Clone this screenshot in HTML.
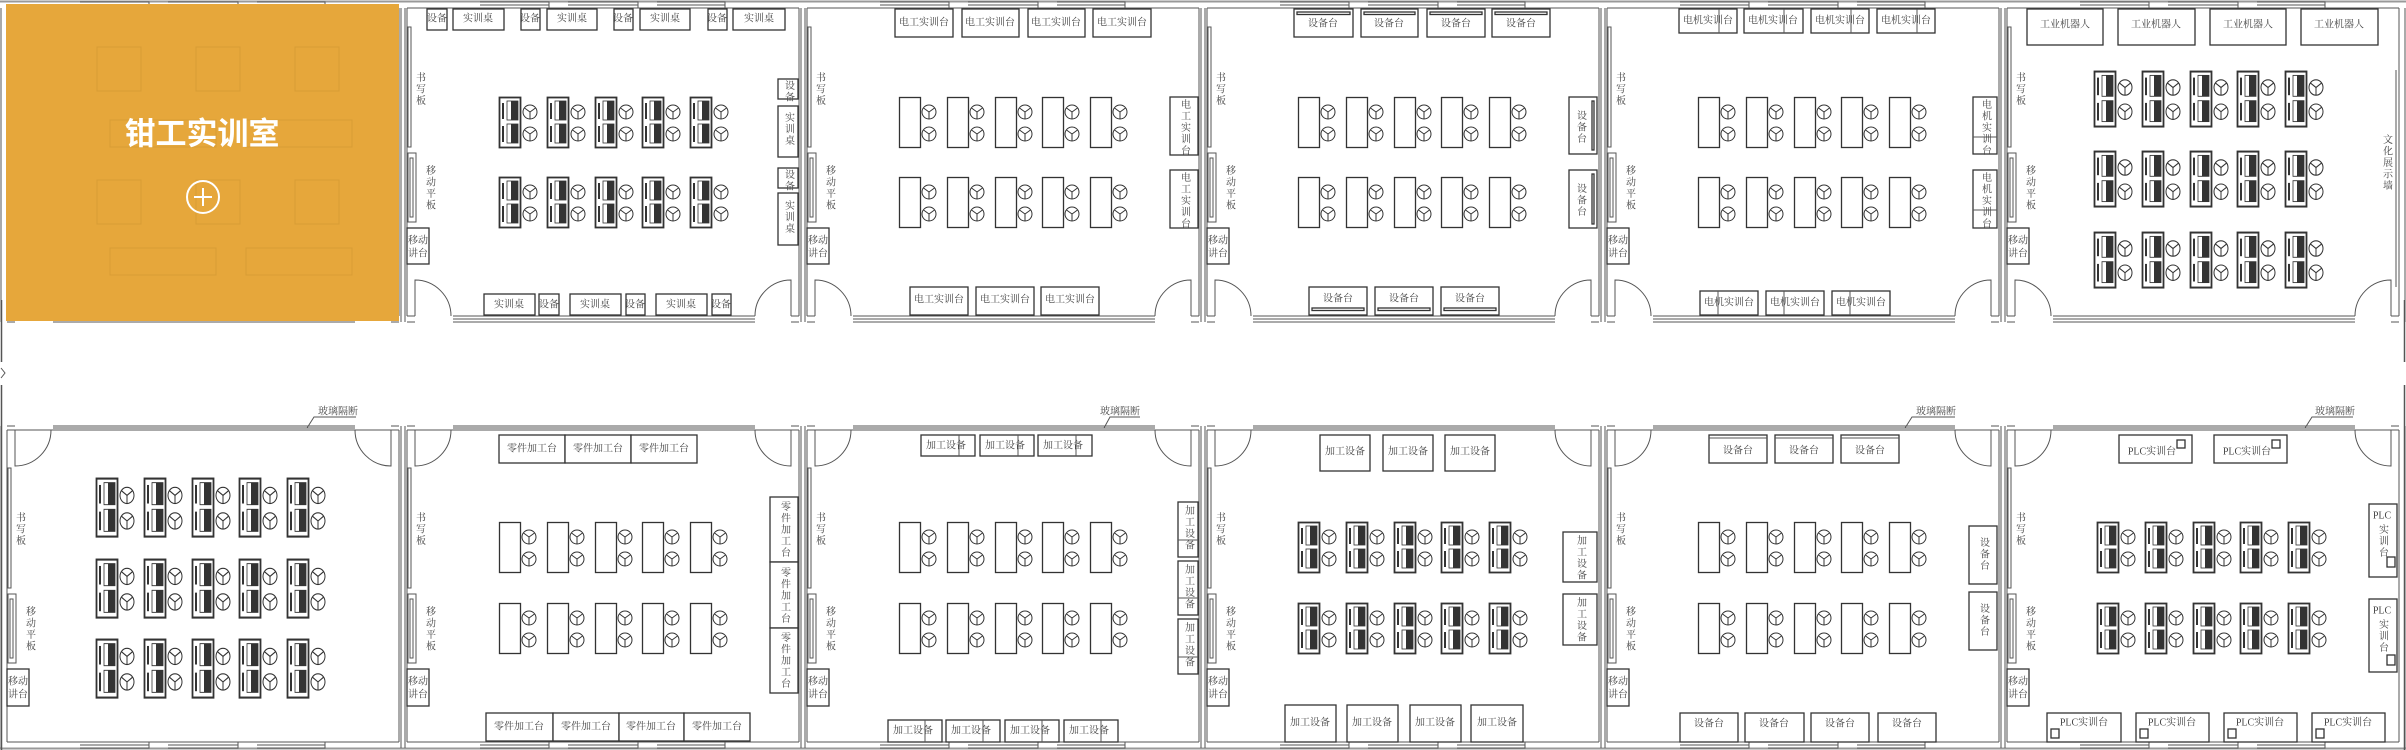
<!DOCTYPE html>
<html><head><meta charset="utf-8"><style>
html,body{margin:0;padding:0;background:#fff;width:2406px;height:750px;overflow:hidden}
svg{display:block}
.w{stroke:#555;stroke-width:1;fill:none}
.b{stroke:#333;stroke-width:1.3;fill:#fff}
.t{font-family:"Liberation Serif","Noto Serif CJK SC",serif;font-size:10px;fill:#444;text-anchor:middle;dominant-baseline:central}
.v{font-family:"Liberation Serif","Noto Serif CJK SC",serif;font-size:10px;fill:#444;writing-mode:tb;letter-spacing:1.5px}
</style></head><body>
<svg width="2406" height="750" viewBox="0 0 2406 750" xmlns="http://www.w3.org/2000/svg">
<defs>
<g id="ch"><circle r="7" fill="#fff" stroke="#333" stroke-width="1"/><path d="M0 0L-5.5 -4M0 0L5.5 -4M0 0V7" stroke="#333" stroke-width="1"/></g>
<g id="pd"><rect x="0.5" y="0.5" width="21" height="50" class="b"/><use href="#ch" x="30" y="15"/><use href="#ch" x="30" y="37"/></g>
<g id="cd"><rect x="0.5" y="0.5" width="21" height="50" stroke="#333" stroke-width="1.8" fill="#fff"/>
<rect x="3" y="6" width="2" height="16" fill="#333"/><rect x="8" y="4" width="11" height="19" fill="#fff" stroke="#333" stroke-width="0.8"/><rect x="12" y="4" width="7" height="19" fill="#333"/>
<rect x="3" y="29" width="2" height="16" fill="#333"/><rect x="8" y="27" width="11" height="19" fill="#fff" stroke="#333" stroke-width="0.8"/><rect x="12" y="27" width="7" height="19" fill="#333"/>
<use href="#ch" x="31" y="15"/><use href="#ch" x="31" y="37"/></g>
<g id="pdrow"><use href="#pd" x="0"/><use href="#pd" x="48"/><use href="#pd" x="96"/><use href="#pd" x="143"/><use href="#pd" x="191"/></g>
<g id="cdrow"><use href="#cd" x="0"/><use href="#cd" x="48"/><use href="#cd" x="96"/><use href="#cd" x="143"/><use href="#cd" x="191"/></g>
<g id="wt" class="w">
<path d="M0 8H392M0 8V316M392 8V316M-6 8V322M398 8V322"/>
<path d="M73 2H142V8M73 5H142M161 2H231V8M161 5H231M250 2H318V8M250 5H318"/>
<path d="M0 316H8M0 322H8M384 316H392M384 322H392M46 316H348M46 319H348M46 322H348"/>
<path d="M8 316V280A36 36 0 0 1 44 316M384 316V280A36 36 0 0 0 348 316"/>
<rect x="1" y="27" width="3" height="120" stroke="#555"/>
<rect x="1" y="153" width="8" height="69"/><rect x="3" y="158" width="3" height="59"/>
</g>
<g id="wb" class="w">
<path d="M0 430H392M0 430V742M392 430V742M-6 426V748M398 426V748"/>
<path d="M0 430H8M0 426H8M384 430H392M384 426H392M46 426H348M46 428H348M46 430H348"/>
<path d="M8 430V466A36 36 0 0 0 44 430M384 430V466A36 36 0 0 1 348 430"/>
<path d="M0 742H392M73 748H142V742M73 745H142M161 748H231V742M161 745H231M250 748H318V742M250 745H318"/>
<rect x="1" y="468" width="3" height="120"/>
<rect x="1" y="594" width="8" height="69"/><rect x="3" y="599" width="3" height="59"/>
</g>
</defs>
<path d="M0 1.5H2406" stroke="#999" stroke-width="2"/>
<path d="M0 748.5H2406" stroke="#999" stroke-width="2"/>
<path d="M1.5 300V362M1.5 385V750M2404.5 300V362M2404.5 385V750" stroke="#555" stroke-width="1.5"/>
<path d="M1 368L5 373L1 378" stroke="#555" fill="none"/>

<use href="#wt" x="7"/><use href="#wt" x="407"/><use href="#wt" x="807"/><use href="#wt" x="1207"/><use href="#wt" x="1607"/><use href="#wt" x="2007"/>
<use href="#wb" x="7"/><use href="#wb" x="407"/><use href="#wb" x="807"/><use href="#wb" x="1207"/><use href="#wb" x="1607"/><use href="#wb" x="2007"/>

<g>
<text class="v" x="419" y="72">书写板</text><text class="v" x="819" y="72">书写板</text><text class="v" x="1219" y="72">书写板</text><text class="v" x="1619" y="72">书写板</text><text class="v" x="2019" y="72">书写板</text>
<text class="v" x="429" y="165">移动平板</text><text class="v" x="829" y="165">移动平板</text><text class="v" x="1229" y="165">移动平板</text><text class="v" x="1629" y="165">移动平板</text><text class="v" x="2029" y="165">移动平板</text>
<rect class="b" x="407" y="228" width="22" height="36"/><text class="t" x="418" y="241">移动</text><text class="t" x="418" y="254">讲台</text>
<rect class="b" x="807" y="228" width="22" height="36"/><text class="t" x="818" y="241">移动</text><text class="t" x="818" y="254">讲台</text>
<rect class="b" x="1207" y="228" width="22" height="36"/><text class="t" x="1218" y="241">移动</text><text class="t" x="1218" y="254">讲台</text>
<rect class="b" x="1607" y="228" width="22" height="36"/><text class="t" x="1618" y="241">移动</text><text class="t" x="1618" y="254">讲台</text>
<rect class="b" x="2007" y="228" width="22" height="36"/><text class="t" x="2018" y="241">移动</text><text class="t" x="2018" y="254">讲台</text>
</g>
<g>
<text class="v" x="19" y="512">书写板</text><text class="v" x="419" y="512">书写板</text><text class="v" x="819" y="512">书写板</text><text class="v" x="1219" y="512">书写板</text><text class="v" x="1619" y="512">书写板</text><text class="v" x="2019" y="512">书写板</text>
<text class="v" x="29" y="606">移动平板</text><text class="v" x="429" y="606">移动平板</text><text class="v" x="829" y="606">移动平板</text><text class="v" x="1229" y="606">移动平板</text><text class="v" x="1629" y="606">移动平板</text><text class="v" x="2029" y="606">移动平板</text>
<rect class="b" x="7" y="669" width="22" height="37"/><text class="t" x="18" y="682">移动</text><text class="t" x="18" y="695">讲台</text>
<rect class="b" x="407" y="669" width="22" height="37"/><text class="t" x="418" y="682">移动</text><text class="t" x="418" y="695">讲台</text>
<rect class="b" x="807" y="669" width="22" height="37"/><text class="t" x="818" y="682">移动</text><text class="t" x="818" y="695">讲台</text>
<rect class="b" x="1207" y="669" width="22" height="37"/><text class="t" x="1218" y="682">移动</text><text class="t" x="1218" y="695">讲台</text>
<rect class="b" x="1607" y="669" width="22" height="37"/><text class="t" x="1618" y="682">移动</text><text class="t" x="1618" y="695">讲台</text>
<rect class="b" x="2007" y="669" width="22" height="37"/><text class="t" x="2018" y="682">移动</text><text class="t" x="2018" y="695">讲台</text>
</g>

<g>
<rect class="b" x="427" y="9" width="20" height="21"/><text class="t" x="437" y="19">设备</text>
<rect class="b" x="453" y="9" width="51" height="21"/><text class="t" x="478" y="19">实训桌</text>
<rect class="b" x="521" y="9" width="19" height="21"/><text class="t" x="530" y="19">设备</text>
<rect class="b" x="547" y="9" width="50" height="21"/><text class="t" x="572" y="19">实训桌</text>
<rect class="b" x="614" y="9" width="19" height="21"/><text class="t" x="623" y="19">设备</text>
<rect class="b" x="640" y="9" width="50" height="21"/><text class="t" x="665" y="19">实训桌</text>
<rect class="b" x="708" y="9" width="19" height="21"/><text class="t" x="717" y="19">设备</text>
<rect class="b" x="733" y="9" width="52" height="21"/><text class="t" x="759" y="19">实训桌</text>
<use href="#cdrow" x="499" y="97"/><use href="#cdrow" x="499" y="177"/>
<rect class="b" x="778" y="79" width="20" height="20"/><text class="v" x="788" y="80">设备</text>
<rect class="b" x="778" y="106" width="20" height="51"/><text class="v" x="788" y="112">实训桌</text>
<rect class="b" x="778" y="168" width="20" height="20"/><text class="v" x="788" y="169">设备</text>
<rect class="b" x="778" y="193" width="20" height="52"/><text class="v" x="788" y="200">实训桌</text>
<rect class="b" x="484" y="294" width="51" height="21"/><text class="t" x="509" y="305">实训桌</text>
<rect class="b" x="539" y="294" width="20" height="21"/><text class="t" x="549" y="305">设备</text>
<rect class="b" x="570" y="294" width="51" height="21"/><text class="t" x="595" y="305">实训桌</text>
<rect class="b" x="626" y="294" width="19" height="21"/><text class="t" x="635" y="305">设备</text>
<rect class="b" x="656" y="294" width="51" height="21"/><text class="t" x="681" y="305">实训桌</text>
<rect class="b" x="712" y="294" width="19" height="21"/><text class="t" x="721" y="305">设备</text>
</g>

<g>
<rect class="b" x="895" y="9" width="58" height="28"/><text class="t" x="924" y="23">电工实训台</text>
<rect class="b" x="962" y="9" width="57" height="28"/><text class="t" x="990" y="23">电工实训台</text>
<rect class="b" x="1028" y="9" width="57" height="28"/><text class="t" x="1056" y="23">电工实训台</text>
<rect class="b" x="1093" y="9" width="58" height="28"/><text class="t" x="1122" y="23">电工实训台</text>
<use href="#pdrow" x="899" y="97"/><use href="#pdrow" x="899" y="177"/>
<rect class="b" x="1170" y="97" width="28" height="58"/><text class="v" x="1184" y="99">电工实训台</text>
<rect class="b" x="1170" y="170" width="28" height="58"/><text class="v" x="1184" y="172">电工实训台</text>
<rect class="b" x="910" y="287" width="58" height="28"/><text class="t" x="939" y="300">电工实训台</text>
<rect class="b" x="976" y="287" width="58" height="28"/><text class="t" x="1005" y="300">电工实训台</text>
<rect class="b" x="1041" y="287" width="58" height="28"/><text class="t" x="1070" y="300">电工实训台</text>
</g>

<g>
<rect class="b" x="1294" y="9" width="59" height="28"/><rect class="b" x="1297" y="12" width="53" height="2.5"/><text class="t" x="1323" y="24">设备台</text>
<rect class="b" x="1361" y="9" width="57" height="28"/><rect class="b" x="1364" y="12" width="51" height="2.5"/><text class="t" x="1389" y="24">设备台</text>
<rect class="b" x="1427" y="9" width="58" height="28"/><rect class="b" x="1430" y="12" width="52" height="2.5"/><text class="t" x="1456" y="24">设备台</text>
<rect class="b" x="1492" y="9" width="58" height="28"/><rect class="b" x="1495" y="12" width="52" height="2.5"/><text class="t" x="1521" y="24">设备台</text>
<use href="#pdrow" x="1298" y="97"/><use href="#pdrow" x="1298" y="177"/>
<rect class="b" x="1569" y="97" width="28" height="57"/><rect class="b" x="1592" y="101" width="2" height="49"/><text class="v" x="1580" y="110">设备台</text>
<rect class="b" x="1569" y="170" width="28" height="58"/><rect class="b" x="1592" y="174" width="2" height="50"/><text class="v" x="1580" y="183">设备台</text>
<rect class="b" x="1309" y="287" width="58" height="28"/><rect class="b" x="1312" y="308" width="52" height="2.5"/><text class="t" x="1338" y="299">设备台</text>
<rect class="b" x="1375" y="287" width="58" height="28"/><rect class="b" x="1378" y="308" width="52" height="2.5"/><text class="t" x="1404" y="299">设备台</text>
<rect class="b" x="1441" y="287" width="58" height="28"/><rect class="b" x="1444" y="308" width="52" height="2.5"/><text class="t" x="1470" y="299">设备台</text>
</g>

<g>
<rect class="b" x="1679" y="9" width="58" height="24"/><path d="M1719 9V33" class="w"/><text class="t" x="1708" y="21">电机实训台</text>
<rect class="b" x="1744" y="9" width="59" height="24"/><path d="M1784 9V33" class="w"/><text class="t" x="1773" y="21">电机实训台</text>
<rect class="b" x="1811" y="9" width="58" height="24"/><path d="M1851 9V33" class="w"/><text class="t" x="1840" y="21">电机实训台</text>
<rect class="b" x="1877" y="9" width="58" height="24"/><path d="M1917 9V33" class="w"/><text class="t" x="1906" y="21">电机实训台</text>
<use href="#pdrow" x="1698" y="97"/><use href="#pdrow" x="1698" y="177"/>
<rect class="b" x="1973" y="97" width="24" height="57"/><path d="M1973 137H1997" class="w"/><text class="v" x="1985" y="99">电机实训台</text>
<rect class="b" x="1973" y="170" width="24" height="58"/><path d="M1973 210H1997" class="w"/><text class="v" x="1985" y="172">电机实训台</text>
<rect class="b" x="1700" y="291" width="58" height="24"/><path d="M1718 291V315" class="w"/><text class="t" x="1729" y="303">电机实训台</text>
<rect class="b" x="1766" y="291" width="58" height="24"/><path d="M1784 291V315" class="w"/><text class="t" x="1795" y="303">电机实训台</text>
<rect class="b" x="1832" y="291" width="58" height="24"/><path d="M1850 291V315" class="w"/><text class="t" x="1861" y="303">电机实训台</text>
</g>

<g>
<rect class="b" x="2027" y="9" width="76" height="36"/><text class="t" x="2065" y="25">工业机器人</text>
<rect class="b" x="2118" y="9" width="77" height="36"/><text class="t" x="2156" y="25">工业机器人</text>
<rect class="b" x="2210" y="9" width="76" height="36"/><text class="t" x="2248" y="25">工业机器人</text>
<rect class="b" x="2301" y="9" width="77" height="36"/><text class="t" x="2339" y="25">工业机器人</text>
<use href="#cdrow" transform="translate(2094 71) scale(1 1.1)"/>
<use href="#cdrow" transform="translate(2094 151) scale(1 1.1)"/>
<use href="#cdrow" transform="translate(2094 232) scale(1 1.1)"/>
<path d="M2396 70V287" stroke="#555" stroke-width="1"/>
<text class="v" x="2386" y="134">文化展示墙</text>
</g>

<g>
<use href="#cdrow" transform="translate(96 478) scale(1 1.16)"/>
<use href="#cdrow" transform="translate(96 559) scale(1 1.16)"/>
<use href="#cdrow" transform="translate(96 639) scale(1 1.16)"/>
<text class="t" x="338" y="412">玻璃隔断</text><path d="M307 428L314 417H356" class="w"/>
</g>

<g>
<rect class="b" x="499" y="435" width="66" height="28"/><text class="t" x="532" y="449">零件加工台</text>
<rect class="b" x="565" y="435" width="66" height="28"/><text class="t" x="598" y="449">零件加工台</text>
<rect class="b" x="631" y="435" width="66" height="28"/><text class="t" x="664" y="449">零件加工台</text>
<use href="#pdrow" x="499" y="522"/><use href="#pdrow" x="499" y="603"/>
<rect class="b" x="770" y="497" width="28" height="65"/><text class="v" x="784" y="501">零件加工台</text>
<rect class="b" x="770" y="562" width="28" height="66"/><text class="v" x="784" y="567">零件加工台</text>
<rect class="b" x="770" y="628" width="28" height="65"/><text class="v" x="784" y="632">零件加工台</text>
<rect class="b" x="486" y="713" width="67" height="28"/><text class="t" x="519" y="727">零件加工台</text>
<rect class="b" x="553" y="713" width="66" height="28"/><text class="t" x="586" y="727">零件加工台</text>
<rect class="b" x="619" y="713" width="65" height="28"/><text class="t" x="651" y="727">零件加工台</text>
<rect class="b" x="684" y="713" width="66" height="28"/><text class="t" x="717" y="727">零件加工台</text>
</g>

<g>
<text class="t" x="1120" y="412">玻璃隔断</text><path d="M1104 428L1110 417H1140" class="w"/>
<rect class="b" x="921" y="435" width="54" height="21"/><path d="M959 435V456" class="w"/><text class="t" x="946" y="446">加工设备</text>
<rect class="b" x="980" y="435" width="54" height="21"/><path d="M1018 435V456" class="w"/><text class="t" x="1005" y="446">加工设备</text>
<rect class="b" x="1038" y="435" width="54" height="21"/><path d="M1076 435V456" class="w"/><text class="t" x="1063" y="446">加工设备</text>
<use href="#pdrow" x="899" y="522"/><use href="#pdrow" x="899" y="603"/>
<rect class="b" x="1178" y="502" width="20" height="55"/><path d="M1178 540H1198" class="w"/><text class="v" x="1188" y="505">加工设备</text>
<rect class="b" x="1178" y="561" width="20" height="54"/><path d="M1178 598H1198" class="w"/><text class="v" x="1188" y="564">加工设备</text>
<rect class="b" x="1178" y="619" width="20" height="55"/><path d="M1178 657H1198" class="w"/><text class="v" x="1188" y="622">加工设备</text>
<rect class="b" x="888" y="720" width="54" height="22"/><path d="M925 720V742" class="w"/><text class="t" x="913" y="731">加工设备</text>
<rect class="b" x="946" y="720" width="54" height="22"/><path d="M983 720V742" class="w"/><text class="t" x="971" y="731">加工设备</text>
<rect class="b" x="1005" y="720" width="54" height="22"/><path d="M1042 720V742" class="w"/><text class="t" x="1030" y="731">加工设备</text>
<rect class="b" x="1064" y="720" width="54" height="22"/><path d="M1101 720V742" class="w"/><text class="t" x="1089" y="731">加工设备</text>
</g>

<g>
<rect class="b" x="1320" y="435" width="50" height="36"/><text class="t" x="1345" y="452">加工设备</text>
<rect class="b" x="1383" y="435" width="50" height="36"/><text class="t" x="1408" y="452">加工设备</text>
<rect class="b" x="1445" y="435" width="50" height="36"/><text class="t" x="1470" y="452">加工设备</text>
<use href="#cdrow" x="1298" y="522"/><use href="#cdrow" x="1298" y="603"/>
<rect class="b" x="1563" y="532" width="34" height="50"/><text class="v" x="1580" y="535">加工设备</text>
<rect class="b" x="1563" y="594" width="34" height="51"/><text class="v" x="1580" y="597">加工设备</text>
<rect class="b" x="1285" y="705" width="51" height="37"/><text class="t" x="1310" y="723">加工设备</text>
<rect class="b" x="1347" y="705" width="51" height="37"/><text class="t" x="1372" y="723">加工设备</text>
<rect class="b" x="1410" y="705" width="51" height="37"/><text class="t" x="1435" y="723">加工设备</text>
<rect class="b" x="1471" y="705" width="52" height="37"/><text class="t" x="1497" y="723">加工设备</text>
</g>

<g>
<text class="t" x="1936" y="412">玻璃隔断</text><path d="M1905 428L1912 417H1955" class="w"/>
<rect class="b" x="1709" y="435" width="58" height="28"/><path d="M1709 438H1767" class="w"/><text class="t" x="1738" y="451">设备台</text>
<rect class="b" x="1775" y="435" width="58" height="28"/><path d="M1775 438H1833" class="w"/><text class="t" x="1804" y="451">设备台</text>
<rect class="b" x="1841" y="435" width="58" height="28"/><path d="M1841 438H1899" class="w"/><text class="t" x="1870" y="451">设备台</text>
<use href="#pdrow" x="1698" y="522"/><use href="#pdrow" x="1698" y="603"/>
<rect class="b" x="1969" y="526" width="28" height="58"/><text class="v" x="1983" y="537">设备台</text>
<rect class="b" x="1969" y="592" width="28" height="58"/><text class="v" x="1983" y="603">设备台</text>
<rect class="b" x="1680" y="713" width="58" height="29"/><text class="t" x="1709" y="724">设备台</text>
<rect class="b" x="1745" y="713" width="59" height="29"/><text class="t" x="1774" y="724">设备台</text>
<rect class="b" x="1811" y="713" width="58" height="29"/><text class="t" x="1840" y="724">设备台</text>
<rect class="b" x="1878" y="713" width="58" height="29"/><text class="t" x="1907" y="724">设备台</text>
</g>

<g>
<text class="t" x="2335" y="412">玻璃隔断</text><path d="M2305 428L2312 417H2353" class="w"/>
<rect class="b" x="2119" y="435" width="73" height="28"/><rect class="b" x="2177" y="440" width="8" height="8"/><text class="t" x="2152" y="452">PLC实训台</text>
<rect class="b" x="2214" y="435" width="73" height="28"/><rect class="b" x="2272" y="440" width="8" height="8"/><text class="t" x="2247" y="452">PLC实训台</text>
<use href="#cdrow" x="2097" y="522"/><use href="#cdrow" x="2097" y="603"/>
<rect class="b" x="2369" y="504" width="28" height="73"/><rect class="b" x="2387" y="557" width="8" height="10"/><text class="t" x="2382" y="516" font-size="9">PLC</text><text class="v" x="2382" y="524">实训台</text>
<rect class="b" x="2369" y="599" width="28" height="73"/><rect class="b" x="2387" y="655" width="8" height="10"/><text class="t" x="2382" y="611" font-size="9">PLC</text><text class="v" x="2382" y="619">实训台</text>
<rect class="b" x="2047" y="713" width="74" height="29"/><rect class="b" x="2051" y="729" width="8" height="9"/><text class="t" x="2084" y="723">PLC实训台</text>
<rect class="b" x="2136" y="713" width="73" height="29"/><rect class="b" x="2140" y="729" width="8" height="9"/><text class="t" x="2172" y="723">PLC实训台</text>
<rect class="b" x="2224" y="713" width="73" height="29"/><rect class="b" x="2228" y="729" width="8" height="9"/><text class="t" x="2260" y="723">PLC实训台</text>
<rect class="b" x="2312" y="713" width="73" height="29"/><rect class="b" x="2316" y="729" width="8" height="9"/><text class="t" x="2348" y="723">PLC实训台</text>
</g>

<rect x="6" y="4" width="393" height="317" fill="#E6A73B"/>
<g opacity="0.12" stroke="#7a5010" fill="none">
<rect x="97" y="47" width="44" height="44"/><rect x="196" y="47" width="44" height="44"/><rect x="295" y="47" width="44" height="44"/>
<rect x="97" y="180" width="44" height="44"/><rect x="196" y="180" width="44" height="44"/><rect x="295" y="180" width="44" height="44"/>
<rect x="110" y="248" width="106" height="27"/><rect x="246" y="248" width="106" height="27"/>
<rect x="110" y="120" width="106" height="27"/><rect x="246" y="120" width="106" height="27"/>
</g>
<text x="202" y="131" font-family="'Noto Sans CJK SC','WenQuanYi Zen Hei',sans-serif" font-size="31" font-weight="bold" fill="#fff" text-anchor="middle" dominant-baseline="central">钳工实训室</text>
<circle cx="203" cy="197" r="16" fill="none" stroke="#fff" stroke-width="2"/>
<path d="M203 188V206M194 197H212" stroke="#fff" stroke-width="2"/>
</svg>
</body></html>
